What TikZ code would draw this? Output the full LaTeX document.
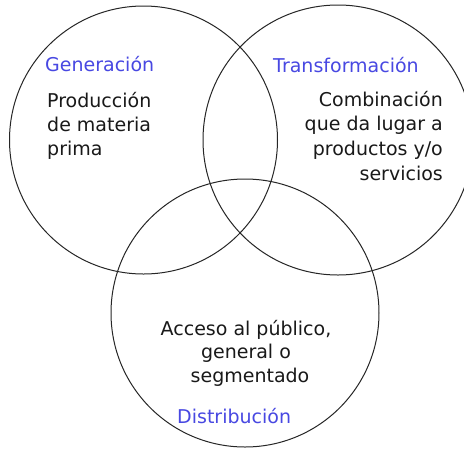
\documentclass[tikz,border=0pt]{standalone}
\usepackage{fontspec}
\setmainfont{DejaVu Sans}
\definecolor{lblblue}{RGB}{72,72,226}
\begin{document}
\begin{tikzpicture}[x=1pt,y=-1pt,
  ring/.style={draw=black!85,line width=1pt,circle,inner sep=0pt},
  txt/.style={inner sep=0pt,font=\fontsize{19}{24}\selectfont,text=black!90},
  lbl/.style={txt,text=lblblue}]
\useasboundingbox[fill=white] (0,0) rectangle (464,451);
\clip (0,0) rectangle (464,451);
\node[ring,minimum size=268pt] (gen) at (143.5,140) {};
\node[ring,minimum size=270pt] (tra) at (338,140) {};
\node[ring,minimum size=268pt] (dis) at (245,313) {};
% Generación
\node[lbl,anchor=base west] (genl) at (45,71) {Generación};
\node[txt,anchor=base west] (gen1) at (47,107) {Producción};
\node[txt,anchor=base west] (gen2) at (47,131) {de materia};
\node[txt,anchor=base west] (gen3) at (47,155) {prima};
% Transformación
\node[lbl,anchor=base west] (tral) at (273,72) {Transformación};
\node[txt,anchor=base east] (tra1) at (443,106) {Combinación};
\node[txt,anchor=base east] (tra2) at (443,130) {que da lugar a};
\node[txt,anchor=base east] (tra3) at (443,155) {productos y/o};
\node[txt,anchor=base east] (tra4) at (443,180) {servicios};
% Distribución
\node[txt,anchor=base] (dis1) at (246,335) {Acceso al público,};
\node[txt,anchor=base] (dis2) at (246,358) {general o};
\node[txt,anchor=base] (dis3) at (250,382) {segmentado};
\node[lbl,anchor=base west] (disl) at (177,423) {Distribución};
\end{tikzpicture}
\end{document}
